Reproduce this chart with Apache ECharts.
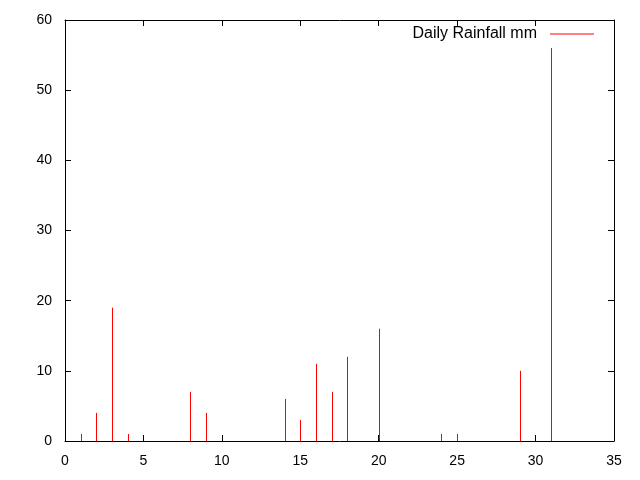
<!DOCTYPE html>
<html>
<head>
	<meta charset="utf-8" />
	<title>Daily Rainfall</title>
	<script src="https://cdn.jsdelivr.net/npm/echarts@6/dist/echarts.min.js"></script>
</head>
<body style="margin:0">
	<div id="main" style="width: 640px;height: 480px;"></div>
	<script type="text/javascript">
		// day of month and rainfall in mm
		var days = [1, 2, 3, 4, 8, 9, 14, 15, 16, 17, 18, 20, 24, 25, 29, 31];
		var rain = [1, 4, 19, 1, 7, 4, 6, 3, 11, 7, 12, 16, 1, 1, 10, 56];
		var seriesName = 'Daily Rainfall mm';

		var points = days.map(function (d, i) { return [d, rain[i]]; });

		var myChart = echarts.init(document.getElementById('main'), null, { renderer: 'canvas' });

		var axisCommon = {
			axisLine: { show: true, onZero: false, lineStyle: { color: '#000', width: 1 } },
			axisTick: { show: true, inside: true, length: 6, lineStyle: { color: '#000' } },
			splitLine: { show: false }
		};

		var option = {
			animation: false,
			backgroundColor: '#fff',
			textStyle: { fontFamily: 'Liberation Sans' },
			grid: { left: 65, right: 26, top: 20, bottom: 39 },
			legend: {
				right: 41,
				top: 21,
				align: 'right',
				itemWidth: 44,
				itemHeight: 1,
				icon: 'rect',
				textStyle: { color: '#000', fontSize: 16, padding: [0, 8, 0, 0] },
				data: [seriesName]
			},
			xAxis: [
				Object.assign({
					type: 'value', min: 0, max: 35, interval: 5,
					axisLabel: { color: '#000', fontSize: 14, margin: 13 }
				}, axisCommon),
				Object.assign({
					type: 'value', position: 'top', min: 0, max: 35, interval: 5,
					axisLabel: { show: false }
				}, axisCommon)
			],
			yAxis: [
				Object.assign({
					type: 'value', min: 0, max: 60, interval: 10,
					axisLabel: { color: '#000', fontSize: 14, margin: 13 }
				}, axisCommon),
				Object.assign({
					type: 'value', position: 'right', min: 0, max: 60, interval: 10,
					axisLabel: { show: false }
				}, axisCommon)
			],
			series: [
				{
					name: seriesName,
					type: 'custom',
					itemStyle: { color: '#ff0000' },
					renderItem: function (params, api) {
						var top = api.coord([api.value(0), api.value(1)]);
						var base = api.coord([api.value(0), 0]);
						var x = Math.round(top[0]) + 0.5;
						return {
							type: 'line',
							shape: { x1: x, y1: base[1], x2: x, y2: top[1] },
							style: { stroke: '#ff0000', lineWidth: 1 }
						};
					},
					encode: { x: 0, y: 1 },
					data: points
				}
			]
		};

		myChart.setOption(option);
	</script>
</body>
</html>
